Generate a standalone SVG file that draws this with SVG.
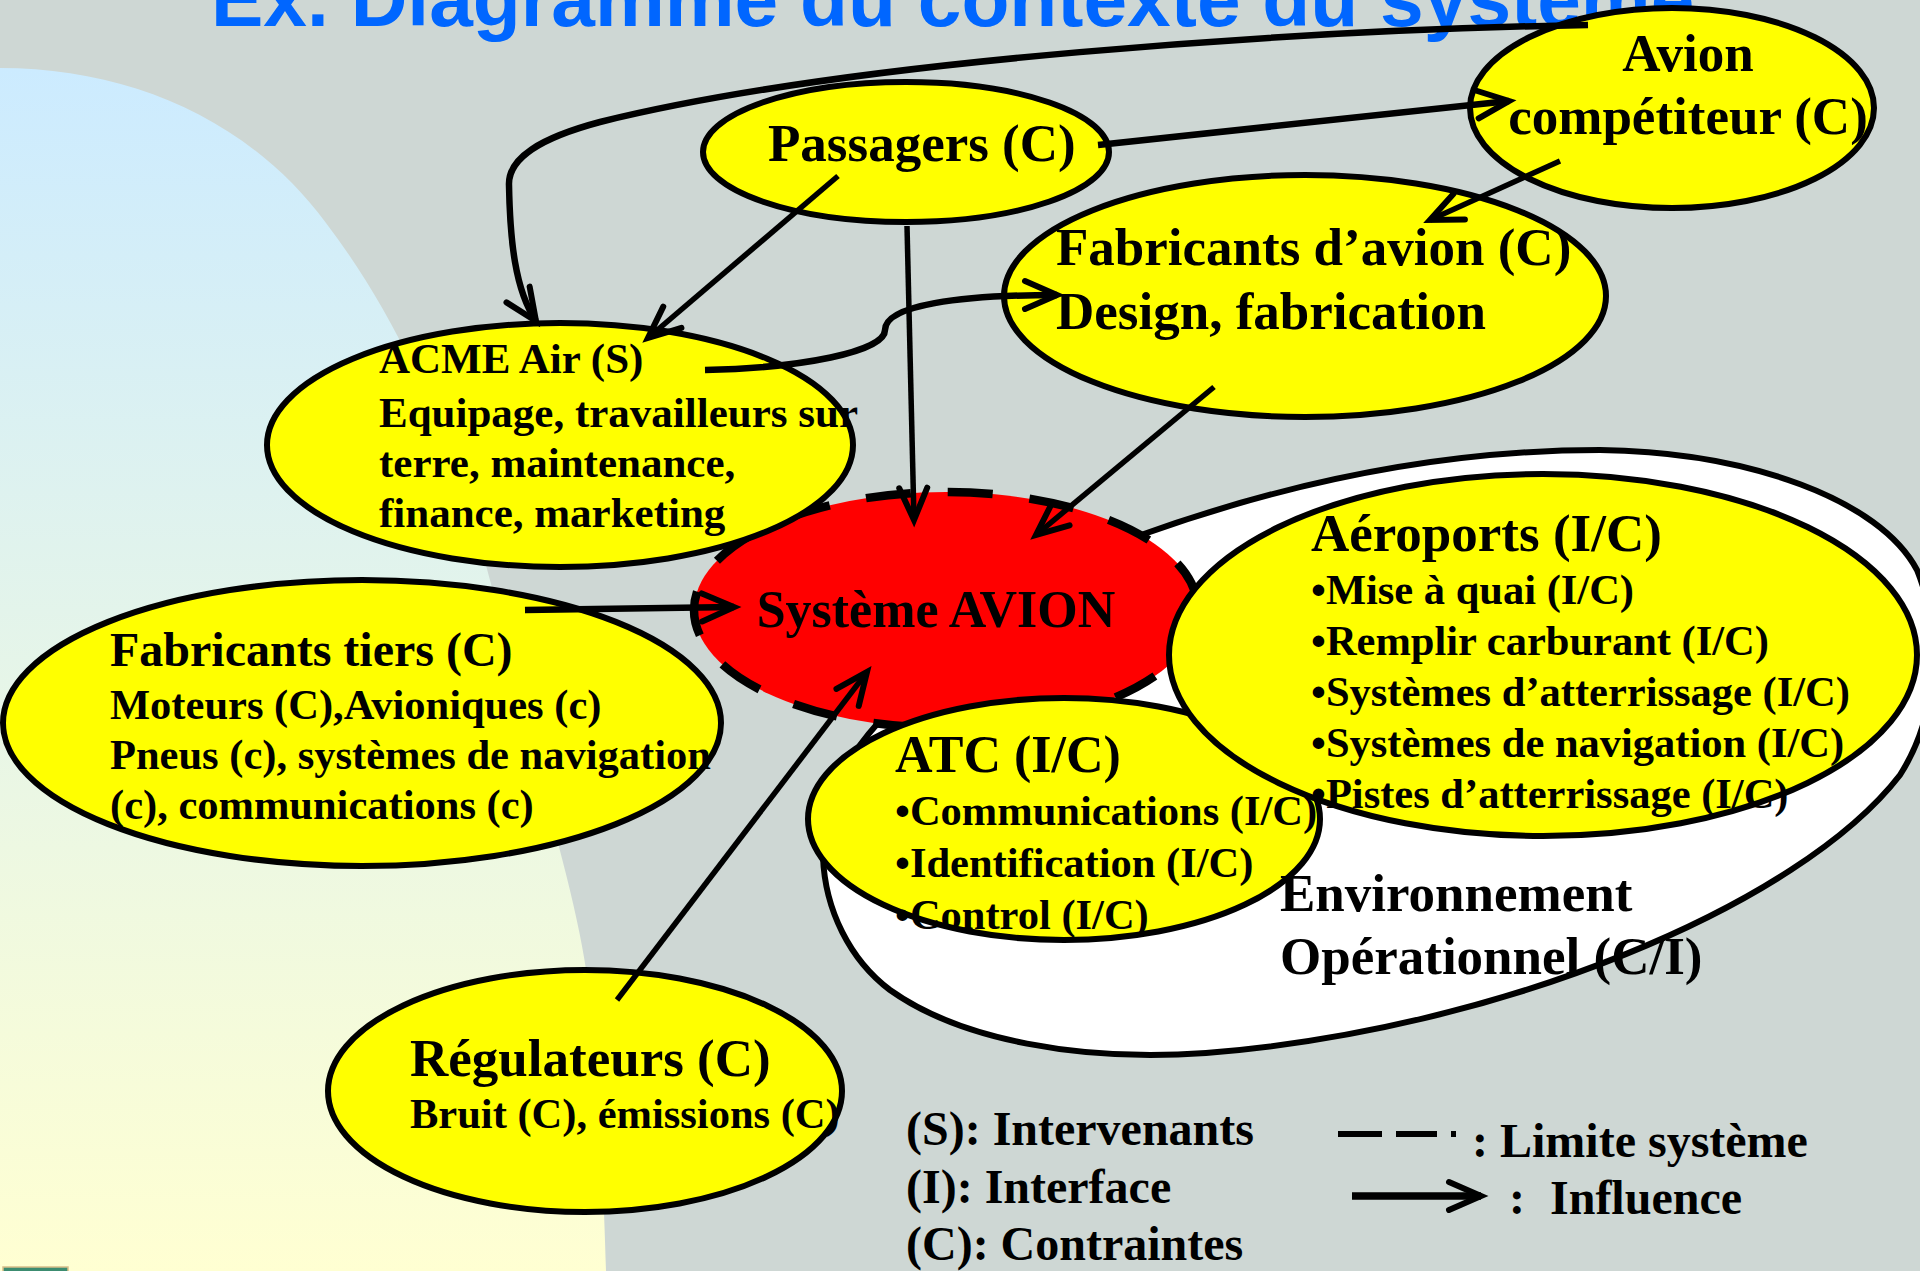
<svg xmlns="http://www.w3.org/2000/svg" width="1920" height="1271" viewBox="0 0 1920 1271">
<defs>
<linearGradient id="bgl" gradientUnits="userSpaceOnUse" x1="0" y1="68" x2="0" y2="1271">
<stop offset="0" stop-color="#CCEBFF"/>
<stop offset="1" stop-color="#FFFFD2"/>
</linearGradient>
<marker id="ah" markerUnits="userSpaceOnUse" viewBox="-44 -22 50 44" markerWidth="50" markerHeight="44" refX="0" refY="0" orient="auto" overflow="visible">
<path d="M-32,-14 L0,0 L-32,14" fill="none" stroke="#000" stroke-width="6" stroke-linecap="round" stroke-linejoin="miter"/>
</marker>
<style>
.nd{fill:#FFFF00;stroke:#000;stroke-width:6}
.t{font-family:"Liberation Serif","Times New Roman",serif;font-weight:bold;fill:#000}
.h53{font-size:53px}
.h48{font-size:48px}
.s{font-size:42.5px}
.s43{font-size:43px}
.cn{fill:none;stroke:#000;stroke-width:5.5;marker-end:url(#ah)}
.cw{stroke-width:6.5}
</style>
</defs>
<rect x="0" y="0" width="1920" height="1271" fill="#CED7D4"/>
<path d="M0,68 C130,68 250,120 326,223 C400,320 460,450 500,620 C540,790 580,900 590,1000 C600,1100 604,1200 606,1271 L0,1271 Z" fill="url(#bgl)"/>
<rect x="3" y="1267" width="65" height="6" fill="#3C8C70" stroke="#D8BE8A" stroke-width="1.5"/>
<text x="211" y="26" font-family="'Liberation Sans',Arial,sans-serif" font-weight="bold" font-size="78.5" fill="#0066FF">Ex. Diagramme du contexte du système</text>

<g id="env">
<path d="M878,723 C960,640 1050,570 1141,535 C1300,478 1450,450 1600,450 C1750,452 1880,500 1917,570 C1945,640 1935,720 1900,775 C1800,905 1500,1030 1206,1053 C1080,1062 960,1040 890,990 C850,960 825,910 823,857 C822,800 845,760 878,723 Z" fill="#FFFFFF" stroke="#000" stroke-width="6"/>
</g>
<g id="systeme">
<ellipse cx="946" cy="610" rx="252" ry="118" fill="#FF0000" stroke="#000" stroke-width="8.5" stroke-dasharray="45 37"/>
</g>
<g id="acme">
<ellipse class="nd" cx="560" cy="445" rx="293" ry="122"/>
</g>
<g id="tiers">
<ellipse class="nd" cx="362" cy="723" rx="359" ry="143"/>
</g>
<g id="atc">
<ellipse class="nd" cx="1064" cy="819" rx="256" ry="121"/>
</g>
<g id="aeroports">
<ellipse class="nd" cx="1543" cy="655" rx="374" ry="181"/>
</g>
<g id="passagers">
<ellipse class="nd" cx="906" cy="152" rx="203" ry="70"/>
<text class="t h53" x="768" y="161">Passagers (C)</text>
</g>
<g id="fabavion">
<ellipse class="nd" cx="1305" cy="296" rx="301" ry="121"/>
<text class="t h53" x="1056" y="265">Fabricants d’avion (C)</text>
<text class="t h53" x="1056" y="329">Design, fabrication</text>
</g>
<g id="avion">
<ellipse class="nd" cx="1672" cy="108" rx="202" ry="100"/>
<text class="t h53" x="1688" y="71" text-anchor="middle">Avion</text>
<text class="t h53" x="1688" y="134" text-anchor="middle">compétiteur (C)</text>
</g>
<g id="regulateurs">
<ellipse class="nd" cx="585" cy="1091" rx="257" ry="121"/>
<text class="t h53" x="410" y="1076">Régulateurs (C)</text>
<text class="t s" x="410" y="1128">Bruit (C), émissions (C)</text>
</g>

<g id="texts">
<text class="t" font-size="52" x="936" y="627" text-anchor="middle">Système AVION</text>
<text class="t s43" x="379" y="373">ACME Air (S)</text>
<text class="t s43" x="379" y="427">Equipage, travailleurs sur</text>
<text class="t s43" x="379" y="477">terre, maintenance,</text>
<text class="t s43" x="379" y="527">finance, marketing</text>
<text class="t h48" x="110" y="666">Fabricants tiers (C)</text>
<text class="t s" x="110" y="719">Moteurs (C),Avioniques (c)</text>
<text class="t s" x="110" y="769">Pneus (c), systèmes de navigation</text>
<text class="t s" x="110" y="819">(c), communications (c)</text>
<text class="t h53" x="1311" y="551">Aéroports (I/C)</text>
<text class="t s" x="1311" y="604">•Mise à quai (I/C)</text>
<text class="t s" x="1311" y="655">•Remplir carburant (I/C)</text>
<text class="t s" x="1311" y="706">•Systèmes d’atterrissage (I/C)</text>
<text class="t s" x="1311" y="757">•Systèmes de navigation (I/C)</text>
<text class="t s" x="1311" y="808">•Pistes d’atterrissage (I/C)</text>
<text class="t" font-size="52" x="895" y="772">ATC (I/C)</text>
<text class="t s" x="895" y="825">•Communications (I/C)</text>
<text class="t s" x="895" y="877">•Identification (I/C)</text>
<text class="t s" x="895" y="929">•Control (I/C)</text>
<text class="t h53" x="1280" y="911">Environnement</text>
<text class="t h53" x="1280" y="974">Opérationnel (C/I)</text>
</g>

<g id="connectors">
<path class="cn cw" d="M1588,25 C1300,30 850,60 600,122 C540,138 508,158 509,185 C510,240 515,290 536,321"/>
<path class="cn cw" d="M1098,145 L1509,101"/>
<path class="cn" d="M838,176 L648,338"/>
<path class="cn" d="M907,226 L914,520"/>
<path class="cn" d="M1560,161 L1430,220"/>
<path class="cn cw" d="M705,370 C800,368 885,352 885,330 C885,305 960,295 1057,295"/>
<path class="cn" d="M1214,387 L1036,535"/>
<path class="cn cw" d="M525,610 L734,607"/>
<path class="cn" d="M617,1000 L867,672"/>
</g>

<g id="legend">
<text class="t h48" x="906" y="1145">(S): Intervenants</text>
<text class="t h48" x="906" y="1203">(I): Interface</text>
<text class="t h48" x="906" y="1260">(C): Contraintes</text>
<path d="M1338,1134 H1382 M1396,1134 H1437 M1451,1134 H1456" stroke="#000" stroke-width="6" fill="none"/>
<text class="t h48" x="1472" y="1157">: Limite système</text>
<path class="cn" style="stroke-width:7.5" d="M1352,1196 L1481,1196"/>
<text class="t h48" x="1509" y="1214">:<tspan x="1550">Influence</tspan></text>
</g>
</svg>
